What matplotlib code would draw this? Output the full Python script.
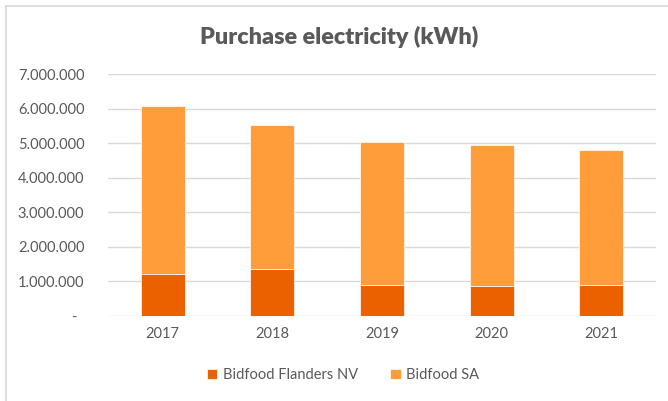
import matplotlib
matplotlib.use("Agg")
import matplotlib.pyplot as plt
from matplotlib.ticker import FuncFormatter
from matplotlib.lines import Line2D
import numpy as np

years = ["2017", "2018", "2019", "2020", "2021"]
flanders_nv = [1230000, 1350000, 890000, 870000, 910000]
bidfood_sa_total = [6080000, 5530000, 5050000, 4960000, 4810000]
bidfood_sa = [t - f for t, f in zip(bidfood_sa_total, flanders_nv)]
series_names = ["Bidfood Flanders NV", "Bidfood SA"]
title = "Purchase electricity (kWh)"

c_dark = "#EB6100"
c_light = "#FF9D3A"
txt = "#595959"
font = "Lato"

fig = plt.figure(figsize=(6.68, 4.01), dpi=100)
ax = fig.add_axes([0.1617, 0.212, 0.982 - 0.1617, 0.8147 - 0.212])

x = np.arange(len(years))
ax.bar(x, flanders_nv, width=0.4, color=c_dark, edgecolor="white", linewidth=0.5,
       label=series_names[0], zorder=3)
ax.bar(x, bidfood_sa, width=0.4, bottom=flanders_nv, color=c_light, edgecolor="white",
       linewidth=0.5, label=series_names[1], zorder=3)

ax.set_xlim(-0.5, len(years) - 0.5)
ax.set_ylim(0, 7000000)
ax.set_yticks(np.arange(0, 7000001, 1000000))

def fmt(v, pos):
    if v == 0:
        return "-  "
    return f"{int(v):,}".replace(",", ".")

ax.yaxis.set_major_formatter(FuncFormatter(fmt))
ax.set_xticks(x)
ax.set_xticklabels(years)
ax.grid(axis="y", color="#D9D9D9", linewidth=1, zorder=0)
for s in ax.spines.values():
    s.set_visible(False)
ax.tick_params(axis="both", length=0, labelcolor=txt, labelsize=10.5)
ax.tick_params(axis="y", pad=17)
ax.tick_params(axis="x", pad=8)
for lab in ax.get_xticklabels() + ax.get_yticklabels():
    lab.set_fontfamily(font)

fig.text(0.508, 0.908, title, ha="center", va="center", fontsize=16.8, fontweight="heavy",
         color=txt, family=font)

leg = fig.legend(loc="center", bbox_to_anchor=(0.513, 0.065), ncol=2, frameon=False,
                 prop={"family": font, "size": 10.5}, handlelength=0.75, handleheight=0.75,
                 handletextpad=0.35, columnspacing=2.2)
for t in leg.get_texts():
    t.set_color(txt)

# chart border
fig.add_artist(Line2D([5.5 / 668, 1], [1 - 5.5 / 401, 1 - 5.5 / 401], color="#D9D9D9",
                      linewidth=1.2, transform=fig.transFigure))
fig.add_artist(Line2D([5.5 / 668, 5.5 / 668], [0, 1 - 5.5 / 401], color="#D9D9D9",
                      linewidth=1.2, transform=fig.transFigure))

fig.savefig("out.png", dpi=100)
